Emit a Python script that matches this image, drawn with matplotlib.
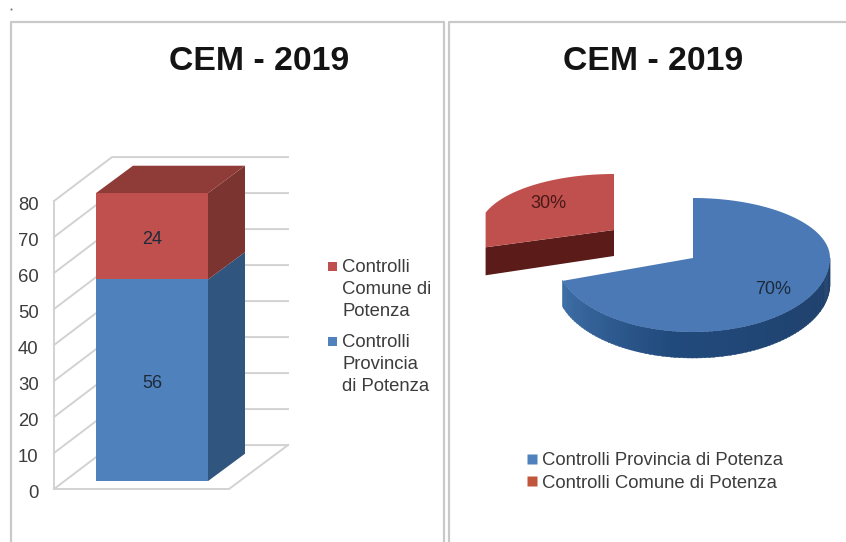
import numpy as np
import matplotlib
matplotlib.use("Agg")
import matplotlib.pyplot as plt
from matplotlib.patches import Polygon, Rectangle
from matplotlib.lines import Line2D
from matplotlib.transforms import ScaledTranslation

plt.rcParams['font.family'] = ['Liberation Sans', 'DejaVu Sans']

title = "CEM - 2019"
stack_labels = ["Controlli\nComune di\nPotenza", "Controlli\nProvincia\ndi Potenza"]
pie_labels = ["Controlli Provincia di Potenza", "Controlli Comune di Potenza"]
provincia_count = [56]
comune_count = [24]
pie_values = [70, 30]
yticks = [0, 10, 20, 30, 40, 50, 60, 70, 80]

W, H = 846, 542
BLUE, RED = "#4f81bd", "#c0504d"
BLUE_SIDE, RED_SIDE = "#30557f", "#7c3431"
RED_TOP = "#8f3b38"
GRID = "#d2d2d2"
FRAME = "#c9c9c9"
TXT = "#3c3c3c"
FS = 13.3

fig = plt.figure(figsize=(W / 100, H / 100), dpi=100, facecolor="white")

# page layer in pixels: panel frames, legends, pie
page = fig.add_axes([0, 0, 1, 1], zorder=1)
page.set_xlim(0, W)
page.set_ylim(H, 0)
page.axis("off")
page.plot([11, 11, 444, 444], [H, 22, 22, H], color=FRAME, lw=1.6)
page.plot([449, 449, W], [H, 22, 22], color=FRAME, lw=1.6)
page.plot([11], [9], marker="o", ms=1.5, color="#777777", mec="none")
page.text(259.5, 62, title, ha="center", va="center", fontsize=24.3, fontweight="bold", color="#141414")
page.text(653.5, 62, title, ha="center", va="center", fontsize=24.3, fontweight="bold", color="#141414")

# ---------- 3D stacked column ----------
ax = fig.add_axes([54 / W, (H - 489) / H, 234 / W, 288 / H], zorder=2)
ax.set_xlim(0, 234)
ax.set_ylim(0, 80)
ax.patch.set_alpha(0)
for s in ax.spines.values():
    s.set_visible(False)
ax.set_xticks([])
ax.set_yticks(yticks)
ax.tick_params(axis="y", length=0, pad=11, labelsize=FS, labelcolor=TXT)
for lab in ax.get_yticklabels():
    lab.set_transform(lab.get_transform() + ScaledTranslation(0, -2.5 / 100, fig.dpi_scale_trans))

wall_dx, wall_dy = 58, 12.2
for v in yticks:
    ax.plot([0, wall_dx, 234], [v, v + wall_dy, v + wall_dy], color=GRID, lw=1.4, clip_on=False, zorder=1)
ax.plot([0, 0], [0, yticks[-1]], color=GRID, lw=1.4, clip_on=False, zorder=1)
ax.plot([0, 175, 234], [0, 0, wall_dy], color=GRID, lw=1.4, clip_on=False, zorder=1)

bar_left, bar_w, lift = 42, 112, 2.2
dep_x, dep_y = 37, 7.6
x0, x1 = bar_left, bar_left + bar_w
base = lift
series = [(provincia_count[0], BLUE, BLUE_SIDE), (comune_count[0], RED, RED_SIDE)]
for val, col, side in series:
    ax.bar(x0, val, width=bar_w, bottom=base, align="edge", color=col, zorder=3, clip_on=False)
    ax.add_patch(Polygon([(x1, base), (x1 + dep_x, base + dep_y), (x1 + dep_x, base + val + dep_y), (x1, base + val)],
                         closed=True, fc=side, ec="none", zorder=3, clip_on=False))
    ax.text(x0 + bar_w / 2, base + val / 2 - 0.8, str(val), ha="center", va="center", fontsize=FS - 0.3,
            color="#1d2a3a", zorder=5)
    base += val
ax.add_patch(Polygon([(x0, base), (x1, base), (x1 + dep_x, base + dep_y), (x0 + dep_x, base + dep_y)],
                     closed=True, fc=RED_TOP, ec="none", zorder=3, clip_on=False))

# left legend
for (ytop, col, lab) in [(266, RED, stack_labels[0]), (341, BLUE, stack_labels[1])]:
    page.add_patch(Rectangle((328, ytop - 4), 9, 9, fc=col, ec="none"))
    for i, line in enumerate(lab.split("\n")):
        page.text(342, ytop + 1.5 + i * 22, line, fontsize=FS, color=TXT, va="center", ha="left")

# ---------- 3D pie ----------
total = sum(pie_values)
a_split = 360 * pie_values[0] / total


def rim(cx, cy, rx, ry_back, ry_front, deg):
    t = np.radians(deg)
    c = np.cos(t)
    return cx + rx * np.sin(t), cy - c * np.where(c > 0, ry_back, ry_front)


def lerp_color(c0, c1, f):
    a, b = np.array(matplotlib.colors.to_rgb(c0)), np.array(matplotlib.colors.to_rgb(c1))
    return a + (b - a) * f


# red slice (exploded): left rim is cut flat, as in the reference
rc = (614, 230, 135, 56, 56)
depth_r = 26
ang = np.linspace(a_split, 360, 120)
rx_, ry_ = rim(*rc, ang)
rx_ = np.maximum(rx_, rx_[0])
page.add_patch(Polygon([(rc[0], rc[1]), (rx_[0], ry_[0]), (rx_[0], ry_[0] + depth_r + 2), (rc[0], rc[1] + depth_r)],
                       fc="#5a1b19", ec="none", zorder=2))
page.add_patch(Polygon(np.column_stack([np.r_[rc[0], rx_], np.r_[rc[1], ry_]]), fc=RED, ec="none", zorder=3))

# blue slice
bc = (693, 258, 137, 60, 74)
depth_b = 26
edges = np.linspace(90, a_split, 91)
for a0, a1 in zip(edges[:-1], edges[1:]):
    f = (a0 - 90) / (a_split - 90)
    col = lerp_color("#1f3f69", "#214a7c", f / 0.6) if f < 0.6 else lerp_color("#214a7c", "#3f6fa8", (f - 0.6) / 0.4)
    x_, y_ = rim(*bc, np.array([a0, a1 + 0.5]))
    page.add_patch(Polygon([(x_[0], y_[0]), (x_[1], y_[1]), (x_[1], y_[1] + depth_b), (x_[0], y_[0] + depth_b)],
                           fc=col, ec=col, lw=0.3, zorder=4))
ang = np.linspace(0, a_split, 200)
bx, by = rim(*bc, ang)
page.add_patch(Polygon(np.column_stack([np.r_[bc[0], bx], np.r_[bc[1], by]]), fc="#4a79b6", ec="none", zorder=5))

bl_x, bl_y = rim(*bc, np.array(a_split / 2))
page.text(bc[0] + (bl_x - bc[0]) * 0.72, bc[1] + (bl_y - bc[1]) * 0.72, f"{pie_values[0]}%",
          ha="center", va="center", fontsize=FS - 0.3, color="#1d2a3a", zorder=6)
rl_x, rl_y = rim(*rc, np.array((a_split + 360) / 2))
page.text(rc[0] + (rl_x - rc[0]) * 0.6, rc[1] + (rl_y - rc[1]) * 0.8, f"{pie_values[1]}%",
          ha="center", va="center", fontsize=FS - 0.3, color="#4a1816", zorder=6)

# right legend
handles = [Line2D([], [], ls="none", marker="s", ms=6.5, mfc=BLUE, mec="none"),
           Line2D([], [], ls="none", marker="s", ms=6.5, mfc="#c0573d", mec="none")]
page.legend(handles, pie_labels, loc="center left", bbox_to_anchor=(522 / W, 1 - 472 / H), frameon=False,
            fontsize=FS, labelcolor=TXT, handletextpad=0.0, labelspacing=0.3, borderpad=0, borderaxespad=0,
            handlelength=1.1)

fig.savefig("out.png", dpi=100)
